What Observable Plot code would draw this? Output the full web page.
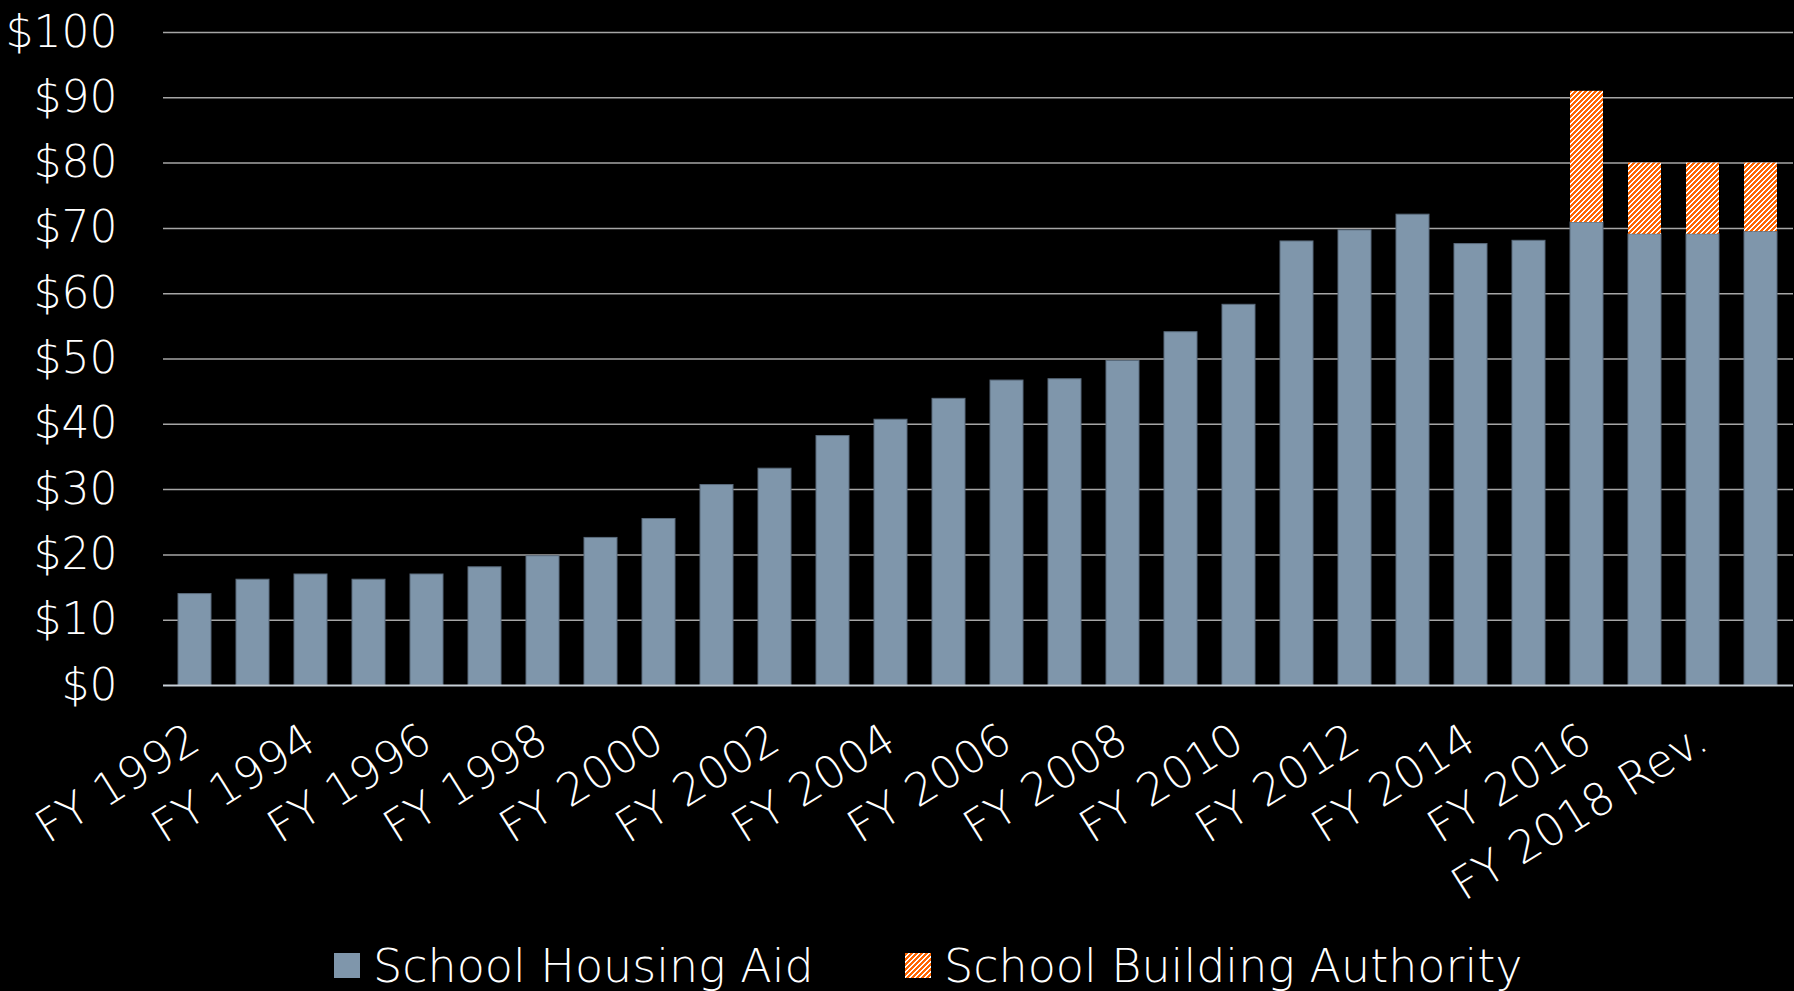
<!DOCTYPE html>
<html><head><meta charset="utf-8">
<script src="https://cdn.jsdelivr.net/npm/d3@7"></script>
<script src="https://cdn.jsdelivr.net/npm/@observablehq/plot@0.6"></script>
<style>
html,body{margin:0;padding:0;background:#000;width:1794px;height:991px;overflow:hidden;}
#legend{position:relative;height:61px;font-family:"DejaVu Sans";font-weight:200;font-size:46px;color:#fff;}
.sw{position:absolute;top:23px;width:26px;height:25px;}
.lt{position:absolute;top:9px;line-height:54px;white-space:nowrap;}
</style></head><body><div id="chart"></div><div id="legend"></div>
<script>
const categories = ["FY 1992","FY 1993","FY 1994","FY 1995","FY 1996","FY 1997","FY 1998","FY 1999","FY 2000","FY 2001","FY 2002","FY 2003","FY 2004","FY 2005","FY 2006","FY 2007","FY 2008","FY 2009","FY 2010","FY 2011","FY 2012","FY 2013","FY 2014","FY 2015","FY 2016","FY 2017","FY 2018 Rev.","FY 2019 Gov."];
const housingAid = [14.0,16.2,17.0,16.2,17.0,18.1,19.8,22.6,25.5,30.7,33.2,38.2,40.7,43.9,46.7,46.9,49.7,54.1,58.3,68.0,69.7,72.1,67.6,68.1,70.9,69.1,69.1,69.5];
const buildingAuthority = [0,0,0,0,0,0,0,0,0,0,0,0,0,0,0,0,0,0,0,0,0,0,0,0,20.1,10.9,10.9,10.5];
const yTicks = [0,10,20,30,40,50,60,70,80,90,100];
const xTickLabels = categories.filter((d,i)=>i%2===0);
const seriesNames = ["School Housing Aid","School Building Authority"];
const seriesColors = ["#7f96ab","#ff6600"];

const data = categories.map((c,i)=>({cat:c, aid:housingAid[i], sba:buildingAuthority[i]}));

const chart = Plot.plot({
  width:1794, height:930,
  marginLeft:163, marginRight:1, marginTop:32, marginBottom:245,
  style:"background:#000;color:#fff;font-family:'DejaVu Sans';font-weight:200;",
  x:{type:"band", domain:categories, paddingInner:0.43, paddingOuter:0.215},
  y:{domain:[0,100]},
  marks:[
    Plot.ruleY(yTicks.filter(d=>d>0), {stroke:"#a6a6a6", strokeWidth:1.5}),
    Plot.barY(data, {x:"cat", y:"aid", fill:seriesColors[0], stroke:"#5a6b7c", strokeWidth:1}),
    Plot.barY(data.filter(d=>d.sba>0), {x:"cat", y1:"aid", y2:d=>d.aid+d.sba, fill:"url(#hatch)"}),
    Plot.ruleY([0], {stroke:"#c8d0d8", strokeWidth:2}),
    Plot.axisY({ticks:yTicks, tickFormat:d=>"$"+d, tickSize:0, tickPadding:46, fontSize:44, label:null}),
    Plot.axisX({ticks:xTickLabels, tickRotate:-32, tickSize:0, tickPadding:50, fontSize:45, label:null})
  ]
});

function addHatch(svgSel, id){
  const defs = svgSel.insert("defs", ":first-child");
  const pat = defs.append("pattern").attr("id", id).attr("patternUnits","userSpaceOnUse")
    .attr("width",5).attr("height",5).attr("shape-rendering","crispEdges");
  pat.append("rect").attr("width",5).attr("height",5).attr("fill","#fff");
  for (let r = 0; r < 5; r++) {
    for (let c = 0; c < 5; c++) {
      if ((c + r) % 5 < 3) pat.append("rect").attr("x",c).attr("y",r).attr("width",1).attr("height",1).attr("fill",seriesColors[1]);
    }
  }
}
addHatch(d3.select(chart), "hatch");
document.getElementById("chart").appendChild(chart);

const legend = d3.select("#legend");
const lefts = [334, 905];
seriesNames.forEach((name,i)=>{
  const sw = legend.append("svg").attr("class","sw").style("left", lefts[i]+"px").attr("width",26).attr("height",25);
  if(i===0){ sw.append("rect").attr("width",26).attr("height",25).attr("fill",seriesColors[0]); }
  else { addHatch(sw, "hatch2"); sw.append("rect").attr("width",26).attr("height",25).attr("fill","url(#hatch2)"); }
  legend.append("span").attr("class","lt").style("left",(lefts[i]+39)+"px").text(name);
});
</script>
</body></html>
